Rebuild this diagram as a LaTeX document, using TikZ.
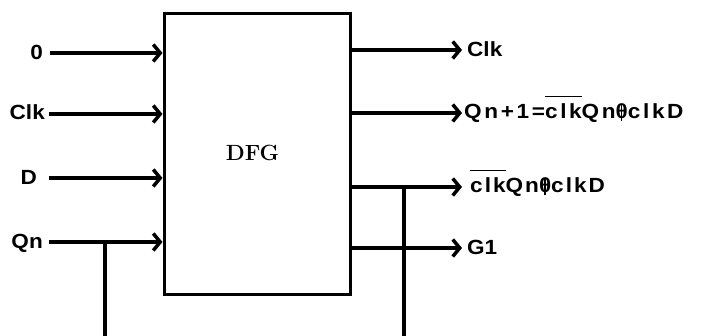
\documentclass[tikz,border=0pt]{standalone}
\usepackage{fontspec}
\usetikzlibrary{arrows.meta}
\newfontfamily\lbl[FakeStretch=1.1]{Liberation Sans}
\newcommand\ovl[1]{\leavevmode\vbox{\hrule height 1.6pt\kern7pt\hbox{#1}}}
\newcommand\thx{\ooalign{θ\cr\hidewidth\rule[-2.5pt]{1.3pt}{16pt}\hidewidth}}
\begin{document}
\begin{tikzpicture}[x=1pt,y=-1pt,
  wire/.style={line width=3.5pt},
  arr/.style={line width=3.5pt,-{Straight Barb[length=7pt,width=17pt]}},
  lab/.style={inner sep=0pt,font=\lbl\bfseries\fontsize{20.5}{23}\selectfont},
  wide/.style={lab,font=\lbl\bfseries\fontsize{20.5}{23}\selectfont\addfontfeature{LetterSpace=10}},
  wider/.style={lab,font=\lbl\bfseries\fontsize{20.5}{23}\selectfont\addfontfeature{LetterSpace=13}},
  blk/.style={draw,line width=3pt,minimum width=186pt,minimum height=281pt,inner sep=0pt}]
\useasboundingbox[fill=white] (0,0) rectangle (702,336);
\node[blk] (box) at (257,154.5) {};
\node[inner sep=0pt,font=\fontsize{22}{26}\selectfont\bfseries] (dfg) at (252.5,152.5) {DFG};
% inputs
\node[lab,anchor=base east] (l0) at (43,59.5) {0};
\node[lab,anchor=base east] (l1) at (45,120) {Clk};
\node[lab,anchor=base east] (l2) at (37,184.5) {D};
\node[lab,anchor=base east] (l3) at (43,248.5) {Qn};
\coordinate (s0) at (50,53);
\coordinate (s1) at (49,114);
\coordinate (s2) at (49,178);
\coordinate (s3) at (49,242);
\draw[arr] (s0) -- (s0 -| box.west);
\draw[arr] (s1) -- (s1 -| box.west);
\draw[arr] (s2) -- (s2 -| box.west);
\draw[arr] (s3) -- (s3 -| box.west);
\coordinate (qj) at (105,242);
\coordinate (qd) at (105,336);
\draw[wire] (qj) -- (qd);
% outputs
\coordinate (e0) at (462,50);
\coordinate (e1) at (462,113);
\coordinate (e2) at (462,187);
\coordinate (e3) at (462,248);
\draw[arr] (e0 -| box.east) -- (e0);
\draw[arr] (e1 -| box.east) -- (e1);
\draw[arr] (e2 -| box.east) -- (e2);
\draw[arr] (e3 -| box.east) -- (e3);
\coordinate (rj) at (404,187);
\coordinate (rd) at (404,336);
\draw[wire] (rj) -- (rd);
\node[lab,anchor=base west] (o0) at (467,57) {Clk};
\node[wider,anchor=base west] (o1) at (464,119) {Qn+1=\ovl{clk}Qn\thx clkD};
\node[wide,anchor=base west] (o2) at (470,193) {\ovl{clk}Qn\thx clkD};
\node[lab,anchor=base west] (o3) at (467,255) {G1};
\end{tikzpicture}
\end{document}
